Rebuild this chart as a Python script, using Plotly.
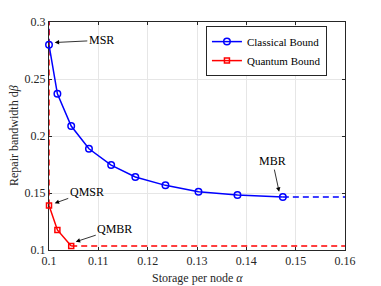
import plotly.graph_objects as go

classical_alpha = [0.1, 0.1017, 0.1045, 0.1081, 0.1126, 0.1175, 0.1236, 0.1303, 0.1382, 0.1474]
classical_beta = [0.280, 0.237, 0.2087, 0.1888, 0.1745, 0.1640, 0.1567, 0.1511, 0.1482, 0.1465]
quantum_alpha = [0.1, 0.1017, 0.1045]
quantum_beta = [0.139, 0.1176, 0.1035]

x_min, x_max = 0.1, 0.16
y_min, y_max = 0.1, 0.3
x_ticks = [0.1, 0.11, 0.12, 0.13, 0.14, 0.15, 0.16]
y_ticks = [0.1, 0.15, 0.2, 0.25, 0.3]

blue = "#0000FF"
red = "#FF0000"
font = "Liberation Serif, Times New Roman, serif"
fs = 12
txt = "#262626"

fig = go.Figure()
# dashed extensions
fig.add_trace(go.Scatter(x=[classical_alpha[0], classical_alpha[0]], y=[classical_beta[0], y_max],
                         mode="lines", line=dict(color=blue, width=1.5, dash="6px,4px"),
                         cliponaxis=False, showlegend=False))
fig.add_trace(go.Scatter(x=[classical_alpha[-1], x_max], y=[classical_beta[-1], classical_beta[-1]],
                         mode="lines", line=dict(color=blue, width=1.5, dash="6px,4px"), showlegend=False))
fig.add_trace(go.Scatter(x=[quantum_alpha[0], quantum_alpha[0]], y=[quantum_beta[0], y_max],
                         mode="lines", line=dict(color=red, width=1.5, dash="6px,4px"),
                         cliponaxis=False, showlegend=False))
fig.add_trace(go.Scatter(x=[quantum_alpha[-1], x_max], y=[quantum_beta[-1], quantum_beta[-1]],
                         mode="lines", line=dict(color=red, width=1.5, dash="6px,4px"), showlegend=False))

fig.add_trace(go.Scatter(x=classical_alpha, y=classical_beta, mode="lines+markers", name="Classical Bound",
                         line=dict(color=blue, width=1.5), cliponaxis=False,
                         marker=dict(symbol="circle-open", size=6.5, color=blue, line=dict(width=1.5))))
fig.add_trace(go.Scatter(x=quantum_alpha, y=quantum_beta, mode="lines+markers", name="Quantum Bound",
                         line=dict(color=red, width=1.5), cliponaxis=False,
                         marker=dict(symbol="square-open", size=5, color=red, line=dict(width=1.5))))

ann = [
    ("MSR", 0.10116, 0.282, 0.1106, 0.284),
    ("QMSR", 0.10116, 0.141, 0.10765, 0.1511),
    ("QMBR", 0.10542, 0.1072, 0.11333, 0.1185),
    ("MBR", 0.14665, 0.1511, 0.14531, 0.178),
]
for t, hx, hy, tx, ty in ann:
    fig.add_annotation(x=hx, y=hy, ax=tx, ay=ty, axref="x", ayref="y", xref="x", yref="y",
                       text=t, showarrow=True, arrowhead=2, arrowsize=1.1, arrowwidth=0.8,
                       arrowcolor="black", font=dict(family=font, size=fs, color="black"))

# axis titles
fig.add_annotation(xref="paper", yref="paper", x=0.5, y=0, yanchor="middle", xanchor="center",
                   yshift=-28, showarrow=False, text="Storage per node <i>α</i>",
                   font=dict(family=font, size=fs, color=txt))
fig.add_annotation(xref="paper", yref="paper", x=0, y=0.5, yanchor="middle", xanchor="center",
                   xshift=-35, textangle=-90, showarrow=False, text="Repair bandwidth d<i>β</i>",
                   font=dict(family=font, size=fs, color=txt))

axis_common = dict(showline=True, linecolor=txt, linewidth=1, mirror="ticks",
                   ticks="inside", ticklen=3, tickcolor=txt, layer="below traces",
                   showgrid=True, gridcolor="#E6E6E6", gridwidth=1, zeroline=False,
                   automargin=False,
                   tickfont=dict(family=font, size=fs, color=txt))
fig.update_xaxes(range=[x_min, x_max], tickvals=x_ticks, ticktext=[f"{v:g}" for v in x_ticks],
                 **axis_common)
fig.update_yaxes(range=[y_min, y_max], tickvals=y_ticks, ticktext=[f"{v:g}" for v in y_ticks],
                 **axis_common)

fig.update_layout(
    width=373, height=278,
    margin=dict(l=41, r=36, t=14, b=36),
    plot_bgcolor="white", paper_bgcolor="white",
    legend=dict(x=0.939, y=0.982, xanchor="right", yanchor="top",
                bgcolor="white", bordercolor=txt, borderwidth=1,
                font=dict(family=font, size=11, color="black"),
                tracegroupgap=0, itemwidth=30),
)

fig.write_html("out.html")
